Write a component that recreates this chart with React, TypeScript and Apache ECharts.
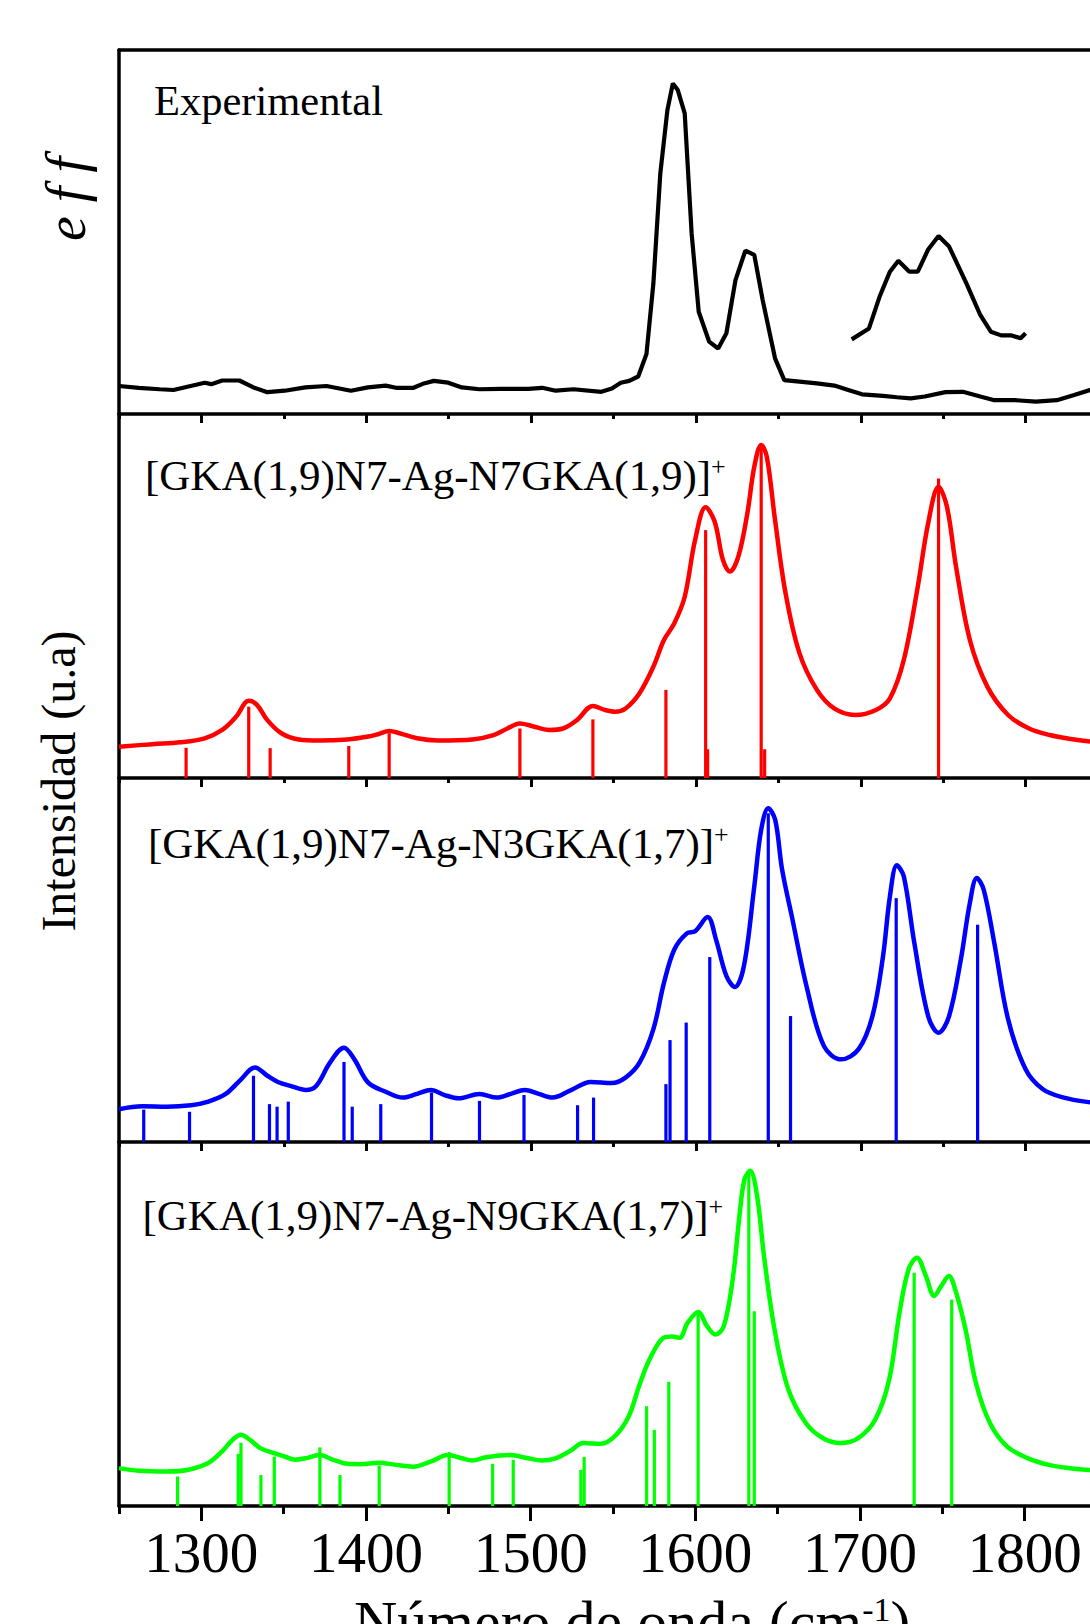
import React, { useEffect, useRef } from 'react';
import * as echarts from 'echarts';

const SERIF = '"Liberation Serif", "Times New Roman", Times, serif';
const X_MIN = 1250;
const X_MAX = 1850;

const xTitle = 'Número de onda (cm';
const xTitleSup = '-1';
const yTitle = 'Intensidad (u.a)';
const effLabel = 'e f f';
const panelNames = [
  'Experimental',
  '[GKA(1,9)N7-Ag-N7GKA(1,9)]',
  '[GKA(1,9)N7-Ag-N3GKA(1,7)]',
  '[GKA(1,9)N7-Ag-N9GKA(1,7)]',
];
const panelSup = '+';

// Experimental spectrum (wavenumber, relative intensity)
const experimental: [number, number][] = [
  [1250, 7.7], [1262, 7.2], [1274.6, 6.8], [1283, 6.6], [1291.5, 7.5], [1302, 8.6], [1306, 8.2],
  [1312.6, 9.2], [1323, 9.2], [1331.6, 7.3], [1340, 6.0], [1350.6, 6.4], [1363, 7.3], [1375.9, 7.7],
  [1390.7, 6.4], [1401, 7.3], [1411.8, 7.8], [1418, 7.2], [1428.7, 7.2], [1435, 8.4], [1441, 9.1],
  [1449.7, 8.6], [1458, 7.3], [1468.7, 6.8], [1481.4, 6.9], [1498.3, 6.9], [1506.7, 7.2], [1515, 6.4],
  [1525.7, 6.8], [1542.6, 6.1], [1549, 7.0], [1554.4, 8.6], [1559.5, 9.1], [1565, 10.3], [1570, 16.5],
  [1574.2, 35.9], [1578.4, 66.1], [1582.7, 83.5], [1586, 90.8], [1589, 89.0], [1593.2, 82.6],
  [1597.4, 49.6], [1601.7, 28.1], [1608, 19.9], [1613.5, 18.0], [1618.5, 22.2], [1624, 36.8],
  [1630, 44.9], [1635.4, 43.7], [1640.5, 31.3], [1648, 15.3], [1653.6, 9.3], [1662.8, 8.9],
  [1673.4, 8.4], [1684, 7.8], [1692.4, 6.6], [1700.8, 5.4], [1713.5, 5.0], [1722, 4.6], [1730.3, 4.3],
  [1738.8, 4.8], [1751.4, 6.0], [1762, 6.1], [1772.5, 4.8], [1781, 3.8], [1793.6, 3.8], [1806.3, 3.4],
  [1819, 3.8], [1829.5, 5.2], [1839, 6.6], [1850, 8.3],
];
const experimentalInset: [number, number][] = [
  [1694.5, 20.5], [1705, 23.5], [1711.4, 32.2], [1717.7, 39.1], [1722.8, 42.1], [1729.5, 39.1],
  [1734.6, 39.1], [1740.9, 45.2], [1747.2, 48.9], [1753.6, 46.0], [1764.1, 35.9], [1772.5, 27.2],
  [1778.9, 22.6], [1785.2, 21.6], [1791.5, 21.6], [1797, 20.8], [1800, 22.2],
];

// [GKA(1,9)N7-Ag-N7GKA(1,9)]+
const n7n7Curve: [number, number][] = [
  [1250, 8.6], [1270.4, 9.3], [1287.3, 9.8], [1302, 10.9], [1312.6, 13.2], [1321, 16.8], [1328.7, 21.2],
  [1333.7, 20.1], [1340, 15.9], [1348.5, 12.3], [1359, 10.6], [1371.7, 10.3], [1388.6, 10.6],
  [1401.2, 11.4], [1407.6, 12.1], [1413.9, 12.9], [1420.2, 12.3], [1430.8, 10.9], [1443.4, 10.3],
  [1464.5, 10.6], [1477.2, 11.8], [1485.6, 13.6], [1493.2, 15.0], [1500.4, 14.3], [1510.9, 13.2],
  [1519.4, 13.6], [1527.8, 15.9], [1537.5, 19.8], [1544.7, 18.7], [1551, 18.2], [1557.3, 19.1],
  [1565.8, 23.3], [1574.2, 30.6], [1580.6, 37.9], [1586.9, 42.5], [1593.2, 49.8], [1599.5, 65.4],
  [1605.9, 74.4], [1611.4, 70.4], [1616.4, 59.9], [1620.6, 56.7], [1625.7, 60.8], [1631.2, 72.7],
  [1635.4, 85.5], [1639.6, 91.5], [1643, 88.3], [1648, 70.9], [1654.4, 50.7], [1662.8, 34.3],
  [1673.4, 24.2], [1683.9, 19.1], [1696.6, 17.3], [1709.2, 18.7], [1717.7, 21.9], [1726.1, 32.4],
  [1734.6, 52.6], [1740.9, 70.0], [1747.2, 80.0], [1752.3, 74.5], [1757.8, 58.1], [1766.2, 37.9],
  [1776.8, 25.1], [1789.4, 17.3], [1802.1, 13.6], [1814.7, 11.8], [1827.4, 10.7], [1839.2, 10.0],
  [1850, 9.6],
];
const n7n7Sticks: [number, number][] = [
  [1290.7, 8.3], [1328.7, 19.6], [1341.7, 8.2], [1389.4, 8.8], [1413.9, 12.3], [1493.2, 13.6],
  [1537.5, 16.1], [1581.8, 24.2], [1605.9, 68.1], [1607.1, 7.9], [1639.6, 91.5], [1641.7, 7.9],
  [1747.2, 82.3],
];

// [GKA(1,9)N7-Ag-N3GKA(1,7)]+
const n7n3Curve: [number, number][] = [
  [1250, 9.0], [1264.1, 9.8], [1278.9, 9.7], [1293.6, 10.1], [1304.2, 11.1], [1314.7, 13.2],
  [1323.2, 16.8], [1332.5, 20.5], [1340, 18.2], [1346.4, 16.5], [1354.8, 15.3], [1363.3, 14.3],
  [1369.6, 15.4], [1378, 21.8], [1386.5, 25.9], [1392.8, 22.7], [1401.2, 16.3], [1411.8, 13.8],
  [1422.3, 12.2], [1430.8, 13.2], [1439.2, 14.3], [1447.6, 12.9], [1456.1, 12.0], [1468.7, 13.2],
  [1479.3, 12.2], [1487.7, 13.2], [1496.2, 14.3], [1504.6, 13.2], [1513, 12.2], [1523.6, 14.1],
  [1536.2, 16.5], [1548.9, 16.2], [1557.3, 17.7], [1565.8, 21.8], [1574.2, 31.0], [1580.6, 43.7],
  [1586.9, 52.9], [1594.5, 57.3], [1599.5, 57.9], [1607.1, 61.8], [1612.2, 55.6], [1618.5, 45.6],
  [1623.6, 42.6], [1629.1, 48.3], [1635.4, 70.2], [1639.6, 85.8], [1643.9, 91.7], [1648.1, 88.5],
  [1652.3, 74.8], [1658.6, 61.1], [1667.1, 42.8], [1677.6, 26.4], [1688.1, 22.7], [1698.7, 25.5],
  [1707.1, 34.6], [1713.5, 51.0], [1717.7, 67.5], [1721.9, 76.0], [1726.1, 73.0], [1732.5, 54.7],
  [1740.9, 34.6], [1747.2, 30.0], [1753.6, 34.6], [1760.7, 50.1], [1766.2, 65.7], [1770.4, 72.5],
  [1774.6, 69.3], [1781, 54.7], [1789.4, 33.7], [1800, 20.0], [1810.5, 14.5], [1823.2, 12.2],
  [1839.2, 10.9], [1850, 10.5],
];
const n7n3Sticks: [number, number][] = [
  [1265.0, 8.9], [1292.8, 8.3], [1331.6, 18.2], [1341.3, 10.4], [1345.9, 9.7], [1352.7, 11.1],
  [1386.5, 22.0], [1391.5, 9.7], [1408.8, 10.4], [1439.6, 13.6], [1468.7, 11.3], [1495.7, 12.9],
  [1528.2, 10.1], [1537.9, 12.2], [1581.8, 15.9], [1584.3, 28.0], [1594.1, 32.8], [1608.4, 50.8],
  [1643.9, 90.3], [1657.4, 34.6], [1721.5, 67.0], [1770.9, 59.7],
];

// [GKA(1,9)N7-Ag-N9GKA(1,7)]+
const n7n9Curve: [number, number][] = [
  [1250, 10.4], [1262, 9.7], [1278.9, 9.5], [1291.5, 9.9], [1304.2, 11.8], [1312.6, 15.0],
  [1319, 18.2], [1324, 19.6], [1329.5, 18.2], [1335.8, 15.9], [1344.3, 14.5], [1350.6, 13.6],
  [1356.9, 12.7], [1363.3, 13.1], [1371.7, 14.0], [1380.1, 12.7], [1388.6, 11.6], [1397, 11.5],
  [1407.6, 11.9], [1418.1, 11.3], [1428.6, 10.8], [1439.2, 12.2], [1449.7, 14.0], [1458.2, 13.1],
  [1464.5, 12.5], [1473, 13.4], [1487.7, 14.0], [1498.3, 13.1], [1506.7, 12.5], [1515.2, 13.1],
  [1523.6, 15.0], [1532, 17.3], [1542.6, 17.1], [1551, 19.1], [1559.5, 24.6], [1565.8, 32.9],
  [1572.1, 40.2], [1580.6, 46.2], [1586, 46.6], [1590.3, 46.2], [1595.3, 50.3], [1601.7, 53.3],
  [1607.1, 49.4], [1612.2, 47.1], [1617.3, 49.4], [1622.7, 62.3], [1627, 80.6], [1629.9, 89.8],
  [1633.3, 92.1], [1637.5, 85.2], [1641.7, 68.7], [1648.1, 48.5], [1656.5, 32.0], [1667.1, 22.8],
  [1677.6, 18.6], [1688.1, 17.3], [1698.7, 18.6], [1709.2, 23.7], [1717.7, 34.7], [1724, 53.1],
  [1729.5, 65.0], [1734.6, 68.2], [1740, 63.2], [1745.1, 57.7], [1749.3, 60.4], [1754, 63.2],
  [1757.8, 59.5], [1764.1, 48.5], [1770.4, 33.8], [1778.9, 22.8], [1789.4, 16.3], [1802.1, 13.1],
  [1814.7, 11.3], [1827.4, 10.4], [1839.2, 9.9], [1850, 9.7],
];
const n7n9Sticks: [number, number][] = [
  [1285.6, 8.1], [1322.4, 14.3], [1324.1, 17.4], [1336.2, 8.5], [1344.3, 13.6], [1372.0, 16.1],
  [1384.2, 8.5], [1408.0, 11.1], [1450.5, 14.8], [1476.9, 11.6], [1489.4, 12.7], [1530.5, 9.9],
  [1532.5, 13.5], [1570.4, 27.4], [1575.1, 20.9], [1583.9, 34.1], [1601.7, 53.1], [1632.5, 91.6],
  [1635.8, 53.5], [1732.9, 64.1], [1755.7, 56.7],
];

const panelCurves = [n7n7Curve, n7n3Curve, n7n9Curve];
const panelSticks = [n7n7Sticks, n7n3Sticks, n7n9Sticks];
const panelColors = ['#ff0000', '#0000ff', '#00ff00'];

const GRID_TOPS = [50, 414, 778, 1142];
const GRID_H = 364;

export default function App() {
  const ref = useRef<HTMLDivElement>(null);
  useEffect(() => {
    if (!ref.current) return;
    const chart = echarts.init(ref.current, undefined, { renderer: 'svg' });

    const grid = GRID_TOPS.map((top) => ({ left: 119, right: 2, top, height: GRID_H }));

    const xAxis: any[] = [];
    // tick axes: one per grid (short ticks at the 50s, long minor ticks at the 100s)
    GRID_TOPS.forEach((_, i) => {
      const last = i === 3;
      xAxis.push({
        gridIndex: i,
        type: 'value',
        min: X_MIN,
        max: X_MAX,
        interval: 100,
        position: 'bottom',
        axisLine: { show: true, onZero: false, lineStyle: { color: '#000', width: 3.5 } },
        axisTick: { show: true, inside: false, length: last ? 8 : 5, lineStyle: { color: '#000', width: 3 } },
        minorTick: { show: true, splitNumber: 2, length: last ? 15 : 9, lineStyle: { color: '#000', width: 3 } },
        axisLabel: { show: false },
        splitLine: { show: false },
        minorSplitLine: { show: false },
      });
    });
    // top border of first panel (index 4)
    xAxis.push({
      gridIndex: 0, type: 'value', min: X_MIN, max: X_MAX, position: 'top',
      axisLine: { show: true, onZero: false, lineStyle: { color: '#000', width: 3.5 } },
      axisTick: { show: false }, axisLabel: { show: false }, splitLine: { show: false },
    });
    // label axis for bottom panel (index 5)
    xAxis.push({
      gridIndex: 3, type: 'value', min: X_MIN, max: X_MAX, interval: 50, position: 'bottom',
      axisLine: { show: false }, axisTick: { show: false }, splitLine: { show: false },
      axisLabel: {
        show: true, margin: 18, color: '#000', fontSize: 57, fontFamily: SERIF,
        formatter: (v: number) => (v % 100 === 0 && v < X_MAX ? String(v) : ''),
      },
    });

    const yAxis = GRID_TOPS.map((_, i) => ({
      gridIndex: i, type: 'value', min: 0, max: 100,
      axisLine: { show: true, lineStyle: { color: '#000', width: 3.5 } },
      axisTick: { show: false }, axisLabel: { show: false }, splitLine: { show: false },
    }));

    const series: any[] = [
      {
        type: 'line', xAxisIndex: 0, yAxisIndex: 0, data: experimental, symbol: 'none',
        lineStyle: { color: '#000', width: 4.2 }, smooth: false,
      },
      {
        type: 'line', xAxisIndex: 0, yAxisIndex: 0, data: experimentalInset, symbol: 'none',
        lineStyle: { color: '#000', width: 4.2 }, smooth: false,
      },
    ];
    panelCurves.forEach((curve, k) => {
      const gi = k + 1;
      series.push({
        type: 'bar', xAxisIndex: gi, yAxisIndex: gi, data: panelSticks[k], barWidth: 3.2,
        itemStyle: { color: panelColors[k] },
      });
      series.push({
        type: 'line', xAxisIndex: gi, yAxisIndex: gi, data: curve, symbol: 'none', smooth: 0.35,
        lineStyle: { color: panelColors[k], width: 4.5 },
      });
    });

    const labelY = [100, 475, 843, 1215];
    const labelX = [154, 145, 148, 142.5];
    const graphic: any[] = panelNames.map((name, i) => ({
      type: 'text', x: labelX[i], y: labelY[i],
      style: i === 0
        ? { text: name, fill: '#000', fontSize: 42.5, fontFamily: SERIF, align: 'left', verticalAlign: 'middle' }
        : {
            text: `{m|${name}}{s|${panelSup}}`,
            fill: '#000', fontSize: 43, fontFamily: SERIF, align: 'left', verticalAlign: 'middle',
            rich: {
              m: { fontSize: 43, fontFamily: SERIF, fill: '#000' },
              s: { fontSize: 26, fontFamily: SERIF, fill: '#000', verticalAlign: 'top' },
            },
          },
    }));
    graphic.push({
      type: 'text', x: 66, y: 199, rotation: Math.PI / 2,
      style: { text: effLabel, fill: '#000', fontSize: 56, fontStyle: 'italic', fontFamily: SERIF, align: 'center', verticalAlign: 'middle' },
    });
    graphic.push({
      type: 'text', x: 58, y: 781, rotation: Math.PI / 2,
      style: { text: yTitle, fill: '#000', fontSize: 48, fontFamily: SERIF, align: 'center', verticalAlign: 'middle' },
    });
    graphic.push({
      type: 'text', x: 354, y: 1622,
      style: {
        text: `{m|${xTitle}}{s|${xTitleSup}}{m|)}`,
        fill: '#000', fontSize: 60, fontFamily: SERIF, align: 'left', verticalAlign: 'middle',
        rich: {
          m: { fontSize: 60, fontFamily: SERIF, fill: '#000' },
          s: { fontSize: 34, fontFamily: SERIF, fill: '#000', verticalAlign: 'top' },
        },
      },
    });

    chart.setOption({
      animation: false,
      backgroundColor: '#fff',
      grid,
      xAxis,
      yAxis,
      series,
      graphic,
    });
    return () => chart.dispose();
  }, []);

  return (
    <div style={{ position: 'absolute', left: 0, top: 0, width: 1090, height: 1624, overflow: 'hidden', background: '#fff' }}>
      <div ref={ref} style={{ width: 1110, height: 1624 }} />
    </div>
  );
}
